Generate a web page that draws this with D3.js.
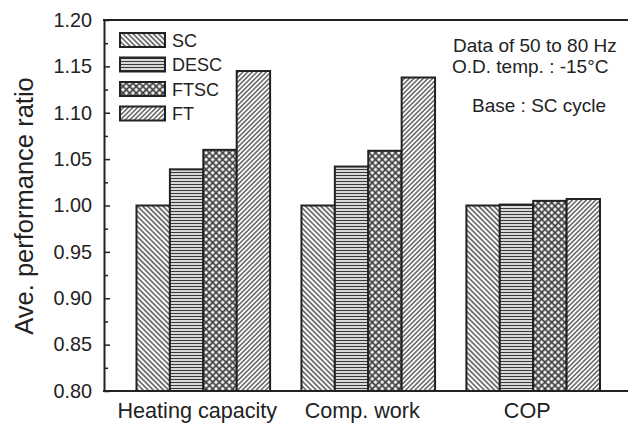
<!DOCTYPE html>
<html><head><meta charset="utf-8">
<script src="https://cdn.jsdelivr.net/npm/d3@7"></script>
<style>html,body{margin:0;padding:0;background:#fff;}svg{display:block;font-family:"Liberation Sans",Arial,sans-serif;}</style>
</head><body><svg id="c" width="628" height="423"></svg>
<script>
const categories = ["Heating capacity", "Comp. work", "COP"];
const seriesNames = ["SC", "DESC", "FTSC", "FT"];
const SC   = [1.000, 1.000, 1.000];
const DESC = [1.039, 1.042, 1.001];
const FTSC = [1.060, 1.059, 1.005];
const FT   = [1.145, 1.138, 1.007];
const yTicks = [0.80, 0.85, 0.90, 0.95, 1.00, 1.05, 1.10, 1.15, 1.20];
const yMinorTicks = [0.825, 0.875, 0.925, 0.975, 1.025, 1.075, 1.125, 1.175];
const notes = ["Data of 50 to 80 Hz", "O.D. temp. : -15\u00B0C", "Base : SC cycle"];

const seriesValues = [SC, DESC, FTSC, FT];
const svg = d3.select("#c");
const ink = "#222";
const L = 104, T = 20, B = 391, R = 632.5;

const x = d3.scaleBand().domain(categories).range([L, R]).paddingInner(0.19).paddingOuter(0.197);
const xs = d3.scaleBand().domain(seriesNames).range([0, x.bandwidth()]);
const y = d3.scaleLinear().domain([0.80, 1.20]).range([B, T]);

// patterns
const defs = svg.append("defs");
function linePattern(id, spacing, angle, sw) {
  const p = defs.append("pattern").attr("id", id).attr("patternUnits", "userSpaceOnUse")
    .attr("width", 10).attr("height", spacing)
    .attr("patternTransform", `rotate(${angle})`);
  p.append("rect").attr("width", 10).attr("height", spacing).attr("fill", "#fff");
  p.append("line").attr("x1", 0).attr("x2", 10).attr("y1", spacing / 2).attr("y2", spacing / 2)
    .attr("stroke", "#3a3a3a").attr("stroke-width", sw);
}
linePattern("pSC", 3.6, 45, 1.3);
linePattern("pDESC", 3.0, 0, 1.4);
linePattern("pFT", 3.3, -45, 1.2);
{
  const s = 4.7;
  const p = defs.append("pattern").attr("id", "pFTSC").attr("patternUnits", "userSpaceOnUse")
    .attr("width", s).attr("height", s).attr("patternTransform", "rotate(45)");
  p.append("rect").attr("width", s).attr("height", s).attr("fill", "#fff");
  p.append("line").attr("x1", 0).attr("x2", s).attr("y1", s / 2).attr("y2", s / 2).attr("stroke", "#3a3a3a").attr("stroke-width", 1.7);
  p.append("line").attr("y1", 0).attr("y2", s).attr("x1", s / 2).attr("x2", s / 2).attr("stroke", "#3a3a3a").attr("stroke-width", 1.7);
}
const fills = { SC: "url(#pSC)", DESC: "url(#pDESC)", FTSC: "url(#pFTSC)", FT: "url(#pFT)" };

// bars
const g = svg.append("g");
categories.forEach((c, ci) => {
  seriesNames.forEach((s, si) => {
    const v = seriesValues[si][ci];
    g.append("rect")
      .attr("x", x(c) + xs(s)).attr("width", xs.bandwidth())
      .attr("y", y(v)).attr("height", y(0.80) - y(v))
      .attr("fill", fills[s]).attr("stroke", ink).attr("stroke-width", 2);
  });
});

// y axis minor ticks
svg.append("g").attr("transform", `translate(${L},0)`)
  .call(d3.axisLeft(y).tickValues(yMinorTicks).tickSize(-4).tickFormat(""))
  .call(a => a.select(".domain").remove())
  .call(a => a.selectAll("line").attr("stroke", ink).attr("stroke-width", 1.5));
// y axis major
const ya = svg.append("g").attr("transform", `translate(${L},0)`)
  .call(d3.axisLeft(y).tickValues(yTicks).tickSize(-6).tickSizeOuter(0).tickPadding(12).tickFormat(d3.format(".2f")));
ya.select(".domain").attr("stroke", ink).attr("stroke-width", 2);
ya.selectAll("line").attr("stroke", ink).attr("stroke-width", 1.5);
ya.selectAll("text").attr("font-size", 19.8).attr("fill", ink).attr("font-family", "Liberation Sans, Arial, sans-serif");

// x axis
const xa = svg.append("g").attr("transform", `translate(0,${B})`)
  .call(d3.axisBottom(x).tickSize(0).tickPadding(12));
xa.select(".domain").remove();
xa.selectAll("text").attr("font-size", 21.6).attr("dx", -6).attr("fill", ink).attr("font-family", "Liberation Sans, Arial, sans-serif");
svg.append("line").attr("x1", L - 1).attr("x2", 628).attr("y1", B).attr("y2", B).attr("stroke", ink).attr("stroke-width", 2);
svg.append("line").attr("x1", L - 1).attr("x2", 628).attr("y1", T).attr("y2", T).attr("stroke", ink).attr("stroke-width", 2);

// y title
svg.append("text").attr("transform", `translate(33,${(72 + 340) / 2}) rotate(-90)`)
  .attr("text-anchor", "middle").attr("font-size", 25.5).attr("fill", ink).text("Ave. performance ratio");

// legend
const lg = svg.append("g");
seriesNames.forEach((s, i) => {
  const yy = 33 + i * 24.5;
  lg.append("rect").attr("x", 120).attr("y", yy).attr("width", 45).attr("height", 14)
    .attr("fill", fills[s]).attr("stroke", ink).attr("stroke-width", 2);
  lg.append("text").attr("x", 172).attr("y", yy + 13.5).attr("font-size", 18).attr("fill", ink).text(s);
});

// notes
const noteX = [453, 452, 472];
const noteY = [52, 73, 112];
notes.forEach((t, i) => {
  svg.append("text").attr("x", noteX[i]).attr("y", noteY[i]).attr("font-size", 19).attr("fill", ink).text(t);
});
</script></body></html>
